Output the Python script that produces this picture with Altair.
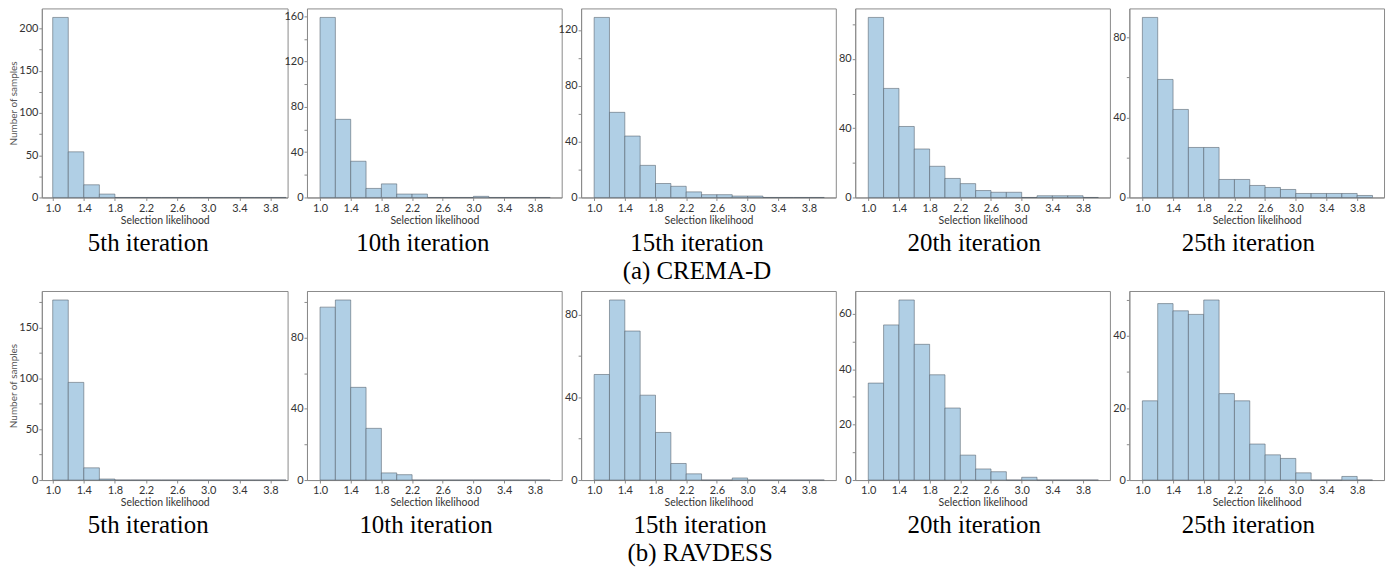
import altair as alt
import pandas as pd

# Histogram bins (selection likelihood)
BIN_LO = [1.0, 1.2, 1.4, 1.6, 1.8, 2.0, 2.2, 2.4, 2.6, 2.8, 3.0, 3.2, 3.4, 3.6, 3.8]
BIN_HI = [1.2, 1.4, 1.6, 1.8, 2.0, 2.2, 2.4, 2.6, 2.8, 3.0, 3.2, 3.4, 3.6, 3.8, 4.0]
X_TICKS = [1.0, 1.4, 1.8, 2.2, 2.6, 3.0, 3.4, 3.8]

ITERATIONS = ["5th iteration", "10th iteration", "15th iteration", "20th iteration", "25th iteration"]
DATASETS = ["(a) CREMA-D", "(b) RAVDESS"]

# CREMA-D counts per bin
crema_5 = [213, 54, 15, 4, 0, 0, 0, 0, 0, 0, 0, 0, 0, 0, 0]
crema_10 = [159, 69, 32, 8, 12, 3, 3, 0, 0, 0, 1, 0, 0, 0, 0]
crema_15 = [129, 61, 44, 23, 10, 8, 4, 2, 2, 1, 1, 0, 0, 0, 0]
crema_20 = [104, 63, 41, 28, 18, 11, 8, 4, 3, 3, 0, 1, 1, 1, 0]
crema_25 = [90, 59, 44, 25, 25, 9, 9, 6, 5, 4, 2, 2, 2, 2, 1]

# RAVDESS counts per bin
rav_5 = [177, 96, 12, 1, 0, 0, 0, 0, 0, 0, 0, 0, 0, 0, 0]
rav_10 = [97, 101, 52, 29, 4, 3, 0, 0, 0, 0, 0, 0, 0, 0, 0]
rav_15 = [51, 87, 72, 41, 23, 8, 3, 0, 0, 1, 0, 0, 0, 0, 0]
rav_20 = [35, 56, 65, 49, 38, 26, 9, 4, 3, 0, 1, 0, 0, 0, 0]
rav_25 = [22, 49, 47, 46, 50, 24, 22, 10, 7, 6, 2, 0, 0, 1, 0]

# label step of y axis per panel
crema_major = [50, 40, 40, 40, 40]
rav_major = [50, 40, 40, 20, 20]

ROWS = [
    (DATASETS[0], [crema_5, crema_10, crema_15, crema_20, crema_25], crema_major),
    (DATASETS[1], [rav_5, rav_10, rav_15, rav_20, rav_25], rav_major),
]

FILL = "#b0cfe5"
EDGE = "#4f5b66"
FRAME = "#8a8a8a"
SANS = "Lato"
SERIF = "Liberation Serif"


def panel(counts, major, col, row_caption):
    df = pd.DataFrame({"lo": BIN_LO, "hi": BIN_HI, "n": counts})
    ymax = max(counts) * 1.05
    step = major / 2
    yvals = []
    v = 0.0
    while v <= ymax:
        yvals.append(v)
        v += step
    first = col == 0
    xdom = [0.86, 4.02] if first else [0.83, 4.15]
    width = 247 if first else 256
    yaxis_kw = dict(
        values=yvals,
        labelExpr=f"datum.value % {major} === 0 ? datum.label : ''",
        tickSize=3,
        labelPadding=1,
        grid=False,
    )
    if first:
        yaxis_kw.update(title="Number of samples", titlePadding=0, titleColor="#555555",
                        titleFontSize=10)
    else:
        yaxis_kw.update(title=None)
    cap = ITERATIONS[col]
    text = [cap, row_caption] if col == 2 else cap
    chart = alt.Chart(df).mark_rect(
        fill=FILL, stroke=EDGE, strokeWidth=1, strokeOpacity=0.55
    ).encode(
        x=alt.X("lo:Q", scale=alt.Scale(domain=xdom, nice=False, zero=False),
                axis=alt.Axis(values=X_TICKS, format=".1f", title="Selection likelihood",
                              tickSize=3, labelPadding=2, titlePadding=2, grid=False)),
        x2="hi:Q",
        y=alt.Y("n:Q", scale=alt.Scale(domain=[0, ymax], nice=False, zero=True),
                axis=alt.Axis(**yaxis_kw)),
        y2=alt.datum(0),
    ).properties(
        width=width,
        height=190,
        title=alt.TitleParams(text=text, orient="bottom", anchor="middle", frame="bounds",
                              font=SERIF, fontSize=25, fontWeight="normal", color="black",
                              offset=5, lineHeight=28),
    )
    return chart


panels = []
for caption, series, majors in ROWS:
    for c in range(5):
        panels.append(panel(series[c], majors[c], c, caption))

chart = alt.concat(
    *panels, columns=5, spacing={"row": 94, "column": 19.5}, bounds="flush"
).properties(
    padding={"left": 0, "top": -2, "right": 5, "bottom": 5}
).configure_view(
    stroke=FRAME, strokeWidth=1
).configure_axis(
    domainColor=FRAME, tickColor=FRAME, labelColor="#333333", labelFont=SANS,
    labelFontSize=11, titleFont=SANS, titleFontSize=10.5, titleFontWeight="normal",
    titleColor="#333333"
)

chart.save("out.html", embed_options={"renderer": "svg", "actions": False})
